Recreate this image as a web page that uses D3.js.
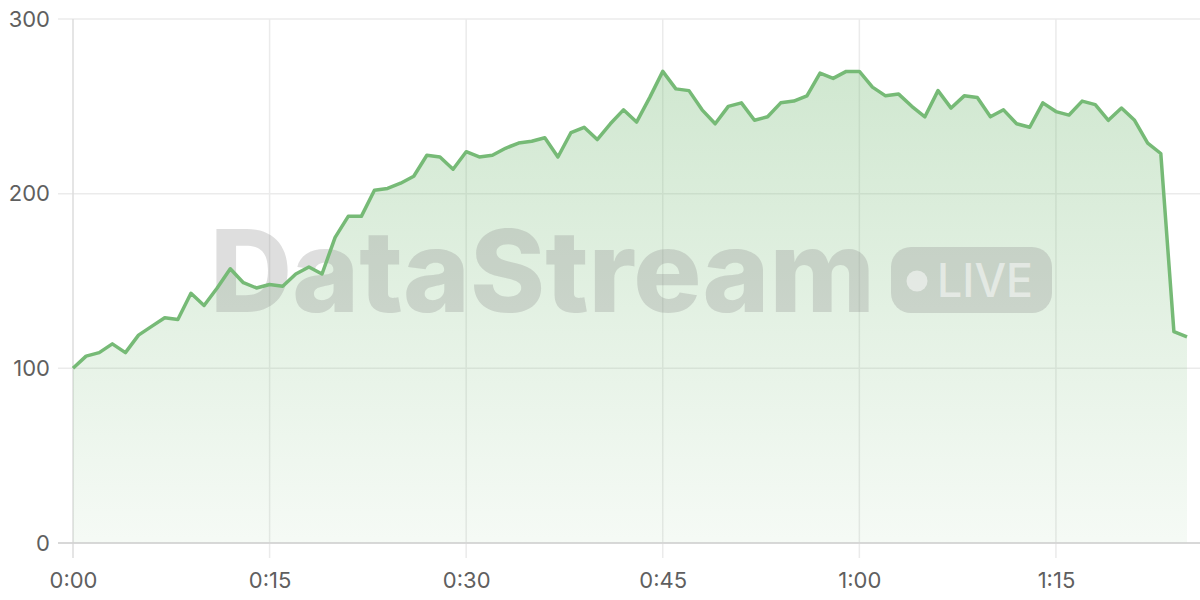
<!DOCTYPE html>
<html>
<head>
<meta charset="utf-8">
<script src="https://cdn.jsdelivr.net/npm/d3@7"></script>
<style>
  html, body { margin: 0; padding: 0; background: #fff; }
  svg { display: block; font-family: Inter, "Liberation Sans", sans-serif; }
</style>
</head>
<body>
<svg id="chart"></svg>
<script>
// minutes since start, one point per minute
const minutes = d3.range(0, 86);
const values = [
  100, 107, 109, 114, 109, 119, 124, 129, 128, 143,
  136, 146, 157, 149, 146, 148, 147, 154, 158, 154,
  175, 187, 187, 202, 203, 206, 210, 222, 221, 214,
  224, 221, 222, 226, 229, 230, 232, 221, 235, 238,
  231, 240, 248, 241, 255, 270, 260, 259, 248, 240,
  250, 252, 242, 244, 252, 253, 256, 269, 266, 270,
  270, 261, 256, 257, 250, 244, 259, 249, 256, 255,
  244, 248, 240, 238, 252, 247, 245, 253, 251, 242,
  249, 242, 229, 223, 121, 118
];
const xTicks = [0, 15, 30, 45, 60, 75];
const yTicks = [0, 100, 200, 300];
const fmtTime = m => `${Math.floor(m / 60)}:${String(m % 60).padStart(2, "0")}`;

const W = 1200, H = 600;
const margin = {top: 19, right: 13, bottom: 57, left: 73};

const svg = d3.select("#chart").attr("width", W).attr("height", H);

const x = d3.scaleLinear().domain([0, 85]).range([margin.left, W - margin.right]);
const y = d3.scaleLinear().domain([0, 300]).range([H - margin.bottom, margin.top]);

const data = minutes.map((m, i) => ({m, v: values[i]}));

// gradient for the area
const grad = svg.append("defs").append("linearGradient")
  .attr("id", "fillGrad").attr("x1", 0).attr("y1", 0).attr("x2", 0).attr("y2", 1);
grad.append("stop").attr("offset", "0%").attr("stop-color", "#76ba76").attr("stop-opacity", 0.34);
grad.append("stop").attr("offset", "100%").attr("stop-color", "#76ba76").attr("stop-opacity", 0.07);

// grid
svg.append("g").selectAll("line").data(yTicks).enter().append("line")
  .attr("x1", margin.left - 15).attr("x2", W)
  .attr("y1", d => y(d)).attr("y2", d => y(d))
  .attr("stroke", "#ebebeb").attr("stroke-width", 1.5);

svg.append("g").selectAll("line").data(xTicks).enter().append("line")
  .attr("x1", d => x(d)).attr("x2", d => x(d))
  .attr("y1", margin.top).attr("y2", H - margin.bottom + 15)
  .attr("stroke", d => d === 0 ? "#dcdcdc" : "#ebebeb").attr("stroke-width", 1.5);

// area
const area = d3.area().x(d => x(d.m)).y0(y(0)).y1(d => y(d.v));
svg.append("path").datum(data).attr("d", area).attr("fill", "url(#fillGrad)");

// watermark
const wm = svg.append("g");
wm.append("text")
  .attr("x", 210).attr("y", 312)
  .attr("textLength", 665).attr("lengthAdjust", "spacingAndGlyphs")
  .style("font-size", "114px").style("font-weight", "800")
  .attr("fill", "#8a8a8a").attr("fill-opacity", 0.28)
  .text("DataStream");
wm.append("rect")
  .attr("x", 891).attr("y", 247).attr("width", 161).attr("height", 66).attr("rx", 20)
  .attr("fill", "#8a8a8a").attr("fill-opacity", 0.28);
wm.append("circle").attr("cx", 917).attr("cy", 281).attr("r", 10.5)
  .attr("fill", "#fff").attr("fill-opacity", 0.5);
wm.append("text")
  .attr("x", 937).attr("y", 297)
  .attr("textLength", 96).attr("lengthAdjust", "spacingAndGlyphs")
  .style("font-size", "47px").style("font-weight", "500")
  .attr("fill", "#fff").attr("fill-opacity", 0.5)
  .text("LIVE");

// bottom axis line
svg.append("line")
  .attr("x1", margin.left - 15).attr("x2", W)
  .attr("y1", y(0)).attr("y2", y(0))
  .attr("stroke", "#d0d0d0").attr("stroke-width", 1.5);

// line
const line = d3.line().x(d => x(d.m)).y(d => y(d.v));
svg.append("path").datum(data).attr("d", line)
  .attr("fill", "none").attr("stroke", "#76ba76").attr("stroke-width", 3.5)
  .attr("stroke-linejoin", "round");

// axes labels
const yAxis = svg.append("g").attr("transform", `translate(${margin.left - 23},0)`)
  .call(d3.axisLeft(y).tickValues(yTicks).tickSize(0).tickPadding(0));
yAxis.select(".domain").remove();
yAxis.selectAll("text").style("font-size", "22px").attr("fill", "#5f5f5f")
  .style("font-family", "Inter, 'Liberation Sans', sans-serif");

const xAxis = svg.append("g").attr("transform", `translate(0,${H - margin.bottom + 15})`)
  .call(d3.axisBottom(x).tickValues(xTicks).tickFormat(fmtTime).tickSize(0).tickPadding(14));
xAxis.select(".domain").remove();
xAxis.selectAll("text").style("font-size", "22px").attr("fill", "#5f5f5f")
  .style("font-family", "Inter, 'Liberation Sans', sans-serif");
</script>
</body>
</html>
